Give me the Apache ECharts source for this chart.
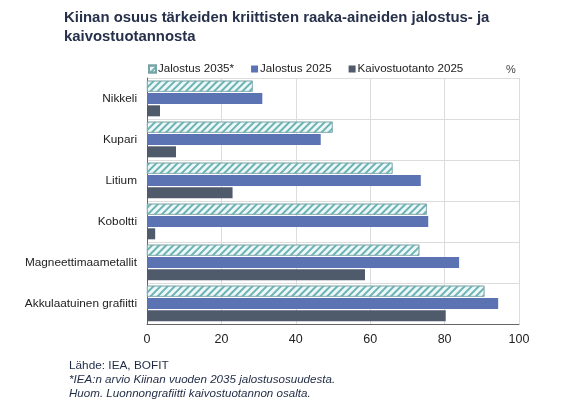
<!DOCTYPE html>
<html><head><meta charset="utf-8">
<script src="https://cdn.jsdelivr.net/npm/echarts@6/dist/echarts.min.js"></script>
<style>html,body{margin:0;padding:0;background:#fff}#c{width:587px;height:403px}</style>
</head><body><div id="c"></div>
<script>
const categories = ['Nikkeli','Kupari','Litium','Koboltti','Magneettimaametallit','Akkulaatuinen grafiitti'];
const jalostus2035 = [28.4, 49.9, 66, 75.2, 73.2, 90.7];
const jalostus2025 = [31.0, 46.7, 73.6, 75.6, 83.9, 94.4];
const kaivos2025 = [3.5, 7.8, 23, 2.2, 58.6, 80.3];
const xTicks = [0, 20, 40, 60, 80, 100];
const F = 'Liberation Sans, Arial, sans-serif';
const chart = echarts.init(document.getElementById('c'), null, {renderer:'canvas'});
chart.setOption({
  animation:false,
  textStyle:{fontFamily:F},
  title:[{
    text:'Kiinan osuus tärkeiden kriittisten raaka-aineiden jalostus- ja\nkaivostuotannosta',
    left:64, top:8, padding:0,
    textStyle:{fontFamily:F, fontSize:14.9, fontWeight:'bold', color:'#27304a', lineHeight:19}
  },{
    text:'%', left:506, top:64, padding:0, textStyle:{fontFamily:F, fontSize:11, fontWeight:'normal', color:'#444'}
  },{
    text:'Lähde: IEA, BOFIT', left:69, top:360, padding:0,
    textStyle:{fontFamily:F, fontSize:11.8, fontWeight:'normal', color:'#1f2a44'},
    subtext:'*IEA:n arvio Kiinan vuoden 2035 jalostusosuudesta.\nHuom. Luonnongrafiitti kaivostuotannon osalta.',
    itemGap:1,
    subtextStyle:{fontFamily:F, fontSize:11.6, fontStyle:'italic', color:'#1f2a44', lineHeight:14}
  }],
  legend:{
    left:143, top:58, itemWidth:7, itemHeight:7, itemGap:17,
    icon:'rect',
    textStyle:{fontFamily:F, fontSize:11.6, color:'#222', padding:[0,0,0,-3]},
    data:['Jalostus 2035*','Jalostus 2025','Kaivostuotanto 2025']
  },
  grid:{left:147, right:68, top:78, bottom:79, containLabel:false},
  xAxis:{
    type:'value', min:0, max:100, interval:20,
    axisLine:{show:true, lineStyle:{color:'#666', width:1}},
    axisTick:{show:false},
    axisLabel:{fontFamily:F, fontSize:12.5, color:'#222', margin:9, formatter:v=>xTicks.includes(v)?String(v):''},
    splitLine:{show:true, lineStyle:{color:'#dcdcdc', width:1}}
  },
  yAxis:{
    type:'category', data:categories, inverse:true,
    axisLine:{show:true, lineStyle:{color:'#666', width:1}},
    axisTick:{show:false},
    axisLabel:{fontFamily:F, fontSize:11.8, color:'#222', margin:10},
    splitLine:{show:true, lineStyle:{color:'#dcdcdc', width:1}}
  },
  series:[{
    name:'Jalostus 2035*', type:'bar', data:jalostus2035, barWidth:11, barGap:'12%',
    itemStyle:{color:'#eef8f8', borderColor:'#7aa3a6', borderWidth:0.6,
      decal:{symbol:'rect', symbolSize:1, dashArrayX:[1,0], dashArrayY:[1.2,2.3], rotation:-Math.PI/4, color:'#6cb3b5'}}
  },{
    name:'Jalostus 2025', type:'bar', data:jalostus2025, barWidth:11, barGap:'12%',
    itemStyle:{color:'#5b72b3'}
  },{
    name:'Kaivostuotanto 2025', type:'bar', data:kaivos2025, barWidth:11, barGap:'12%',
    itemStyle:{color:'#4f5a6b'}
  }]
});
</script></body></html>
